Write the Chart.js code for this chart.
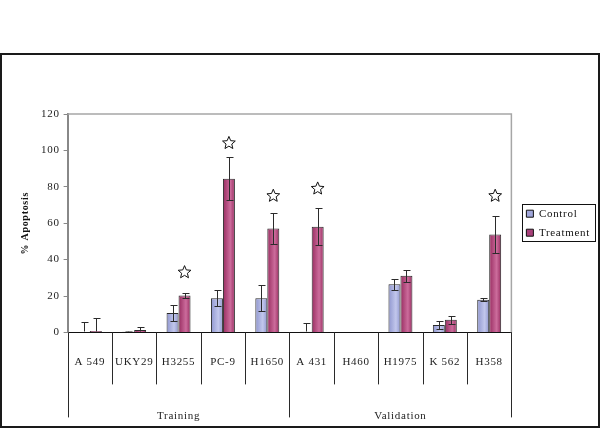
<!DOCTYPE html>
<html><head><meta charset="utf-8">
<script src="https://cdn.jsdelivr.net/npm/chart.js@4.4.1/dist/chart.umd.min.js"></script>
<style>
html,body{margin:0;padding:0;background:#fff;}
#wrap{position:relative;width:600px;height:429px;}
canvas{display:block;position:absolute;left:0;top:0;}
#frame{position:absolute;left:0;top:53px;width:596px;height:371px;border:2px solid #1a1a1a;pointer-events:none;}
</style></head><body>
<div id="wrap"><canvas id="c" width="600" height="429"></canvas><div id="frame"></div></div>
<script>
// ---- data ----
const categories = ['A 549','UKY29','H3255','PC-9','H1650','A 431','H460','H1975','K 562','H358'];
const groups = ['Training','Validation'];
const groupSizes = [5, 5];
const controlValues   = [0.2, 0.3, 10.7, 18.8, 18.8, 0.3, 0.2, 26.4, 4.1, 17.9];
const controlErrors   = [5.3, 0.3, 4.5, 4.5, 7.2, 4.9, 0.0, 3.2, 2.3, 0.9];
const treatmentValues = [0.8, 1.3, 20.3, 84.4, 57.1, 58.1, 0.2, 31.1, 7.0, 53.8];
const treatmentErrors = [7.1, 1.5, 1.2, 11.8, 8.3, 10.2, 0.0, 3.3, 2.2, 10.4];
const starMarks       = [null, null, 33, 104, 75, 79, null, null, null, 75];
const yTicks = [0, 20, 40, 60, 80, 100, 120];

// ---- style ----
const FONT = "'Liberation Serif', 'Times New Roman', serif";
const CAT_PCT = 0.54;
const INNER_SEP = 52, OUTER_SEP = 85;
const COLORS = {
  control:   {dark:'#8f96cf', light:'#c2c7ec', legend:'#a0a6da'},
  treatment: {dark:'#982c60', light:'#cc6c9c', legend:'#a8407a'}
};
Chart.defaults.font.family = FONT;
Chart.defaults.font.size = 11;
Chart.defaults.color = '#222';

function barFill(c, idx) {
  return (ctxt) => {
    const chart = ctxt.chart, xs = chart.scales.x;
    if (ctxt.type !== 'data' || !xs || !xs.width) return c.dark;
    const cell = xs.width / categories.length;
    const bw = cell * CAT_PCT / 2;
    const cx = xs.getPixelForValue(ctxt.dataIndex);
    const left = idx === 0 ? cx - bw : cx;
    const g = chart.ctx.createLinearGradient(left, 0, left + bw, 0);
    g.addColorStop(0, c.dark);
    g.addColorStop(0.62, c.light);
    g.addColorStop(1, c.dark);
    return g;
  };
}

const spacingPlugin = {
  id: 'spacing',
  beforeUpdate(chart) { chart.ctx.letterSpacing = '0.7px'; },
  beforeDraw(chart) { chart.ctx.letterSpacing = '0.7px'; }
};

const framePlugin = {
  id: 'plotFrame',
  beforeDatasetsDraw(chart) {
    const {ctx, chartArea: a} = chart;
    ctx.save();
    ctx.strokeStyle = '#a6a6a6';
    ctx.lineWidth = 1.5;
    ctx.beginPath();
    ctx.moveTo(a.left, a.top);
    ctx.lineTo(a.right, a.top);
    ctx.lineTo(a.right, a.bottom);
    ctx.stroke();
    ctx.restore();
  }
};

// table-like separators under the category axis, placed from the x scale
const separatorPlugin = {
  id: 'separators',
  afterDraw(chart) {
    const {ctx, chartArea: a} = chart;
    const xs = chart.scales.x;
    const cell = xs.width / categories.length;
    const groupEdges = new Set([0]);
    let acc = 0;
    groupSizes.forEach(s => { acc += s; groupEdges.add(acc); });
    ctx.save();
    ctx.strokeStyle = '#2a2a2a';
    ctx.lineWidth = 1;
    for (let i = 0; i <= categories.length; i++) {
      const px = Math.round(xs.getPixelForValue(Math.min(i, categories.length - 1)) + (i < categories.length ? -cell / 2 : cell / 2)) + 0.5;
      const len = groupEdges.has(i) ? OUTER_SEP : INNER_SEP;
      ctx.beginPath();
      ctx.moveTo(px, a.bottom);
      ctx.lineTo(px, a.bottom + len);
      ctx.stroke();
    }
    ctx.restore();
  }
};

const errorPlugin = {
  id: 'errorBars',
  afterDatasetsDraw(chart) {
    const {ctx, chartArea: a} = chart;
    const ys = chart.scales.y;
    ctx.save();
    ctx.beginPath();
    ctx.rect(a.left, 0, a.right - a.left, a.bottom - 1);
    ctx.clip();
    ctx.strokeStyle = '#2b2b2b';
    ctx.lineWidth = 1;
    chart.data.datasets.forEach((ds, di) => {
      const meta = chart.getDatasetMeta(di);
      meta.data.forEach((bar, j) => {
        const v = ds.data[j], e = ds.errors[j];
        if (!e) return;
        const x = Math.round(bar.x) + 0.5;
        const top = Math.round(ys.getPixelForValue(v + e)) + 0.5;
        const bot = Math.round(ys.getPixelForValue(v - e)) + 0.5;
        ctx.beginPath();
        ctx.moveTo(x, top); ctx.lineTo(x, bot);
        ctx.moveTo(x - 3, top); ctx.lineTo(x + 4, top);
        ctx.moveTo(x - 3, bot); ctx.lineTo(x + 4, bot);
        ctx.stroke();
      });
    });
    ctx.restore();
  }
};

function drawStar(ctx, x, y, R) {
  const r = R * 0.45;
  ctx.beginPath();
  for (let k = 0; k < 10; k++) {
    const ang = -Math.PI / 2 + k * Math.PI / 5;
    const rad = k % 2 === 0 ? R : r;
    const px = x + rad * Math.cos(ang), py = y + rad * Math.sin(ang);
    if (k) ctx.lineTo(px, py); else ctx.moveTo(px, py);
  }
  ctx.closePath();
  ctx.fillStyle = '#fff';
  ctx.fill();
  ctx.strokeStyle = '#111';
  ctx.lineWidth = 1;
  ctx.stroke();
}

const starPlugin = {
  id: 'stars',
  afterDatasetsDraw(chart) {
    const ys = chart.scales.y;
    const meta = chart.getDatasetMeta(1);
    chart.ctx.save();
    starMarks.forEach((s, j) => {
      if (s == null) return;
      drawStar(chart.ctx, meta.data[j].x, ys.getPixelForValue(s), 6.7);
    });
    chart.ctx.restore();
  }
};

const legendBoxPlugin = {
  id: 'legendBox',
  afterDraw(chart) {
    const lg = chart.legend;
    if (!lg || !lg.legendHitBoxes || !lg.legendHitBoxes.length) return;
    const hb = lg.legendHitBoxes;
    let l = Infinity, r = -Infinity, t = Infinity, b = -Infinity;
    hb.forEach(h => { l = Math.min(l, h.left); r = Math.max(r, h.left + h.width); t = Math.min(t, h.top); b = Math.max(b, h.top + h.height); });
    const ctx = chart.ctx;
    ctx.save();
    ctx.strokeStyle = '#111';
    ctx.lineWidth = 1;
    ctx.strokeRect(Math.round(l - 4) + 0.5, Math.round(t - 4) + 0.5, Math.round(r - l + 9), Math.round(b - t + 7));
    ctx.restore();
  }
};

new Chart(document.getElementById('c'), {
  type: 'bar',
  data: {
    labels: categories,
    datasets: [
      {label: 'Control', data: controlValues, errors: controlErrors,
       backgroundColor: barFill(COLORS.control, 0), borderColor: '#2a2a2a', borderWidth: 1},
      {label: 'Treatment', data: treatmentValues, errors: treatmentErrors,
       backgroundColor: barFill(COLORS.treatment, 1), borderColor: '#2a2a2a', borderWidth: 1}
    ]
  },
  options: {
    responsive: false,
    animation: false,
    layout: {padding: {left: 2, top: 114, right: 0, bottom: 6}},
    datasets: {bar: {categoryPercentage: CAT_PCT, barPercentage: 1}},
    plugins: {
      tooltip: {enabled: false},
      legend: {
        position: 'right',
        fullSize: false,
        labels: {
          boxWidth: 7, boxHeight: 7, padding: 8, color: '#111', font: {size: 11},
          generateLabels: (chart) => chart.data.datasets.map((ds, i) => ({
            text: ds.label,
            fillStyle: i === 0 ? COLORS.control.legend : COLORS.treatment.legend,
            strokeStyle: '#111', lineWidth: 1, hidden: false, datasetIndex: i, fontColor: '#111'
          }))
        }
      }
    },
    scales: {
      x: {
        type: 'category', offset: true, weight: 0,
        grid: {offset: true, drawOnChartArea: false, drawTicks: true, tickLength: 23.4, color: 'rgba(0,0,0,0)'},
        border: {color: '#111', width: 1},
        ticks: {padding: 0, autoSkip: false, maxRotation: 0, minRotation: 0, color: '#222', font: {size: 11}}
      },
      x2: {
        type: 'category', labels: groups, position: 'bottom', offset: true, weight: 1,
        grid: {offset: true, drawOnChartArea: false, drawTicks: true, tickLength: 40.8, color: 'rgba(0,0,0,0)'},
        border: {display: false},
        ticks: {padding: 0, autoSkip: false, maxRotation: 0, minRotation: 0, color: '#222', font: {size: 11}}
      },
      y: {
        min: yTicks[0], max: yTicks[yTicks.length - 1],
        ticks: {stepSize: yTicks[1] - yTicks[0], padding: 4, color: '#222', font: {size: 11}},
        grid: {drawOnChartArea: false, tickLength: 4, color: '#888'},
        border: {color: '#888', width: 2},
        title: {display: true, text: '% Apoptosis', color: '#111', font: {size: 10, weight: 'bold'}, padding: {top: 17, bottom: 6}}
      },
      spacer: {
        type: 'linear', position: 'right', display: true,
        grid: {display: false, drawTicks: true, tickLength: 7},
        border: {display: false}, ticks: {display: false}
      }
    }
  },
  plugins: [spacingPlugin, framePlugin, errorPlugin, starPlugin, separatorPlugin, legendBoxPlugin]
});
</script>
</body></html>
